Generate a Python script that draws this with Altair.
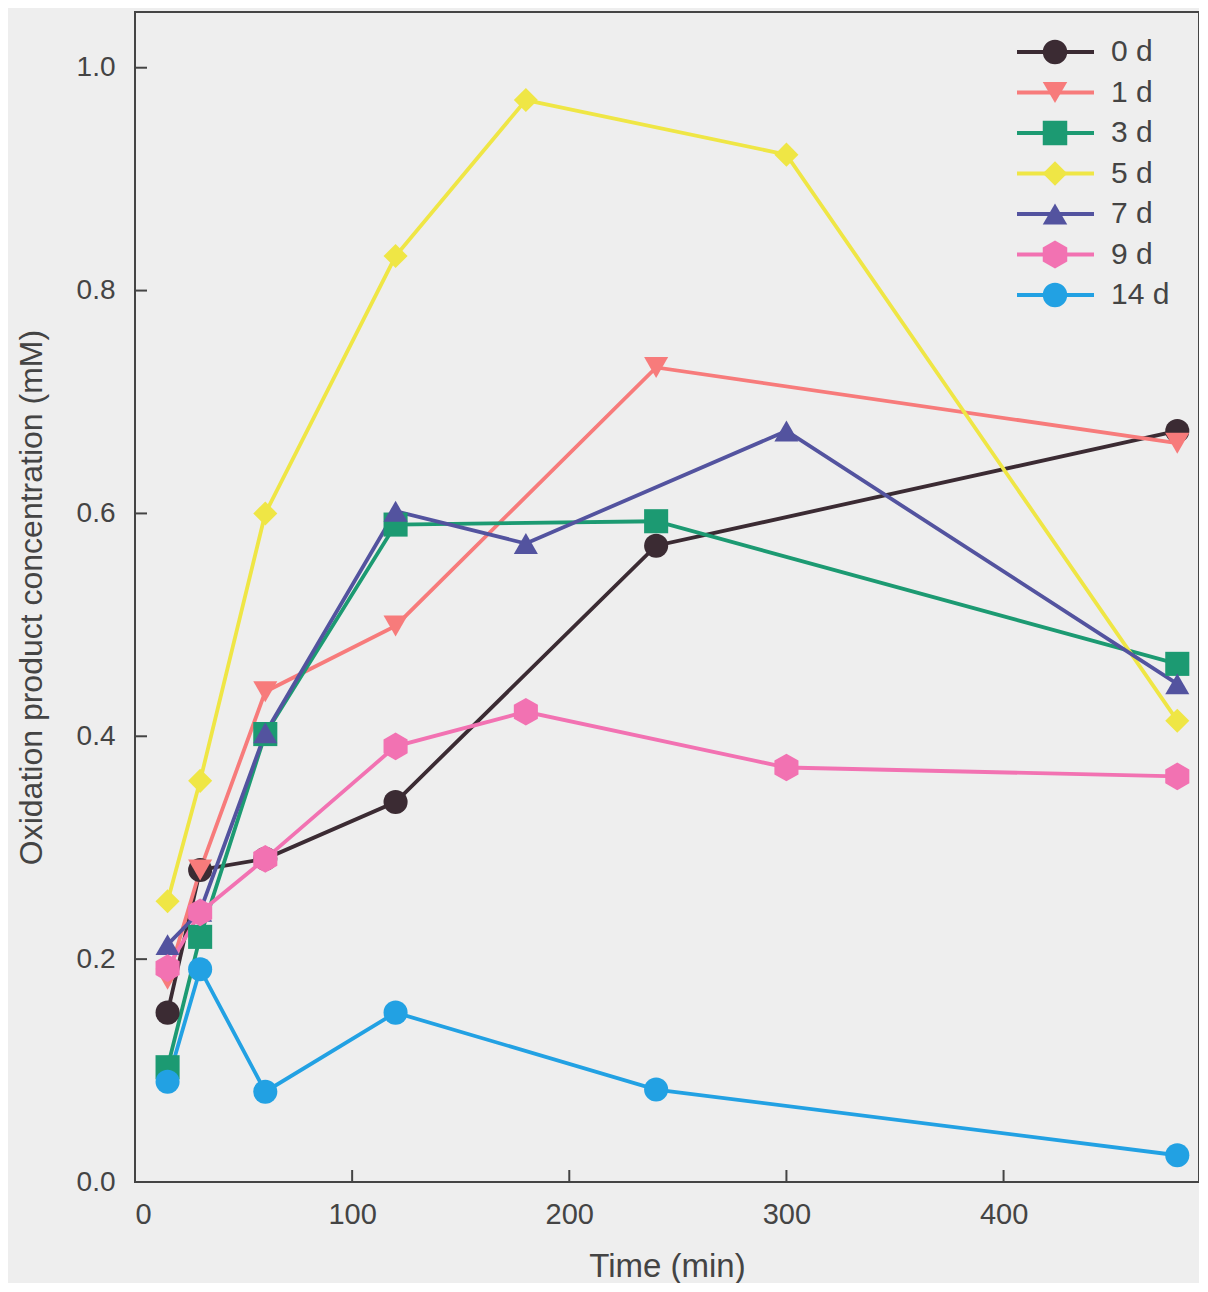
import altair as alt
import pandas as pd

names = ["0 d", "1 d", "3 d", "5 d", "7 d", "9 d", "14 d"]
colors = ["#3b2b33", "#f77b7b", "#1c9a72", "#efe645", "#53539f", "#f272b2", "#22a1e3"]
hexagon = "M0,-1.15L1,-0.575L1,0.575L0,1.15L-1,0.575L-1,-0.575Z"
shapes = ["circle", "triangle-down", "square", "diamond", "triangle-up", hexagon, "circle"]

t_0d = [15, 30, 60, 120, 240, 480]
v_0d = [0.152, 0.280, 0.290, 0.341, 0.571, 0.674]
t_1d = [15, 30, 60, 120, 240, 480]
v_1d = [0.182, 0.280, 0.440, 0.499, 0.731, 0.663]
t_3d = [15, 30, 60, 120, 240, 480]
v_3d = [0.103, 0.220, 0.402, 0.590, 0.593, 0.465]
t_5d = [15, 30, 60, 120, 180, 300, 480]
v_5d = [0.252, 0.360, 0.600, 0.831, 0.971, 0.922, 0.414]
t_7d = [15, 30, 60, 120, 180, 300, 480]
v_7d = [0.213, 0.243, 0.403, 0.602, 0.573, 0.674, 0.447]
t_9d = [15, 30, 60, 120, 180, 300, 480]
v_9d = [0.192, 0.242, 0.290, 0.391, 0.422, 0.372, 0.364]
t_14d = [15, 30, 60, 120, 240, 480]
v_14d = [0.090, 0.191, 0.081, 0.152, 0.083, 0.024]

x_ticks = [100, 200, 300, 400]
y_ticks = [0.2, 0.4, 0.6, 0.8, 1.0]

series_t = [t_0d, t_1d, t_3d, t_5d, t_7d, t_9d, t_14d]
series_v = [v_0d, v_1d, v_3d, v_5d, v_7d, v_9d, v_14d]

rows = []
for i, (n, ts, vs) in enumerate(zip(names, series_t, series_v)):
    for t, v in zip(ts, vs):
        rows.append({"series": n, "sidx": i, "time": t, "value": v})
df = pd.DataFrame(rows)

W, H = 1064, 1170
AXC = "#444444"
TXT = "#444444"
FONT = "Liberation Sans"

xsc = alt.Scale(domain=[0, 490], nice=False, zero=False)
ysc = alt.Scale(domain=[0, 1.05], nice=False, zero=False)
csc = alt.Scale(domain=names, range=colors)
ssc = alt.Scale(domain=names, range=shapes)

xax = alt.Axis(values=[0, 100, 200, 300, 400], tickSize=0, domain=False, grid=False,
               labelFont=FONT, labelFontSize=29, labelColor=TXT,
               labelPadding=18, title="Time (min)", titleFont=FONT,
               titleFontSize=33, titleFontWeight="normal", titleColor=TXT, titlePadding=21)
yax = alt.Axis(values=[0, 0.2, 0.4, 0.6, 0.8, 1.0], format=".1f", tickSize=0, domain=False,
               grid=False, labelFont=FONT, labelFontSize=28, labelColor=TXT,
               labelPadding=20, title="Oxidation product concentration (mM)",
               titleFont=FONT, titleFontSize=32, titleFontWeight="normal",
               titleColor=TXT, titlePadding=28)

lines = alt.Chart(df).mark_line(strokeWidth=3.8).encode(
    x=alt.X("time:Q", scale=xsc, axis=xax),
    y=alt.Y("value:Q", scale=ysc, axis=yax),
    color=alt.Color("series:N", scale=csc, legend=None),
    detail="sidx:N",
    order="time:Q",
)

points = alt.Chart(df).mark_point(filled=True, size=580, opacity=1).encode(
    x=alt.X("time:Q", scale=xsc),
    y=alt.Y("value:Q", scale=ysc),
    color=alt.Color("series:N", scale=csc, legend=None),
    shape=alt.Shape("series:N", scale=ssc, legend=None),
    order=alt.Order("sidx:Q"),
)

xt = alt.Chart(pd.DataFrame({"t": x_ticks})).mark_rule(color=AXC, strokeWidth=2).encode(
    x=alt.X("t:Q", scale=xsc), y=alt.value(H), y2=alt.value(H - 12))
yt = alt.Chart(pd.DataFrame({"v": y_ticks})).mark_rule(color=AXC, strokeWidth=2).encode(
    y=alt.Y("v:Q", scale=ysc), x=alt.value(0), x2=alt.value(12))

main = alt.layer(lines, points, xt, yt)

leg_df = pd.DataFrame({"series": names, "sidx": list(range(len(names)))})
lysc = alt.Scale(type="point", domain=names, range=[40, 283], padding=0)
leg_line = alt.Chart(leg_df).mark_rule(strokeWidth=3.8).encode(
    y=alt.Y("series:N", scale=lysc, axis=None),
    x=alt.value(882), x2=alt.value(959),
    color=alt.Color("series:N", scale=csc, legend=None),
)
leg_pt = alt.Chart(leg_df).mark_point(filled=True, size=600, opacity=1).encode(
    y=alt.Y("series:N", scale=lysc, axis=None),
    x=alt.value(920),
    color=alt.Color("series:N", scale=csc, legend=None),
    shape=alt.Shape("series:N", scale=ssc, legend=None),
)
leg_txt = alt.Chart(leg_df).mark_text(align="left", baseline="middle", font=FONT,
                                      fontSize=30, color=TXT).encode(
    y=alt.Y("series:N", scale=lysc, axis=None),
    x=alt.value(976),
    text="series:N",
)
legend = alt.layer(leg_line, leg_pt, leg_txt)

chart = alt.layer(main, legend).resolve_scale(y="independent").properties(
    width=W, height=H, background="#eeeeee",
    padding={"left": 7, "top": 4, "right": 0, "bottom": 0},
).configure_view(stroke=AXC, strokeWidth=2)

chart.save("out.html", embed_options={"renderer": "svg", "actions": False})
